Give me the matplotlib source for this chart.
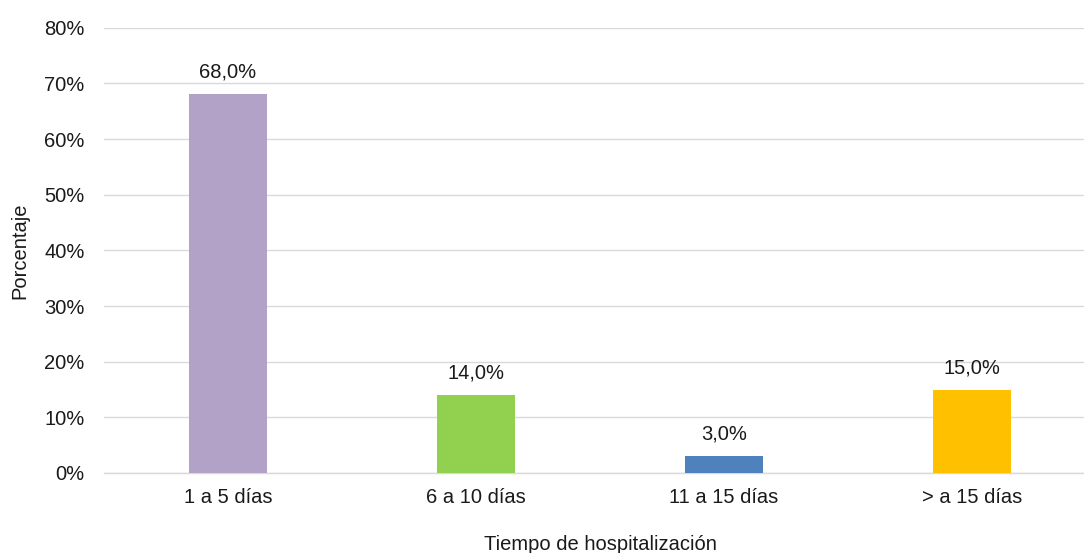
import matplotlib.pyplot as plt
from matplotlib.ticker import PercentFormatter

# data
categorias = ['1 a 5 días', '6 a 10 días', '11 a 15 días', '> a 15 días']
porcentajes = [68.0, 14.0, 3.0, 15.0]
colores = ['#B3A2C7', '#92D050', '#4F81BD', '#FFC000']

plt.rcParams['font.family'] = ['Liberation Sans', 'DejaVu Sans']

fig = plt.figure(figsize=(10.84, 5.53), dpi=100)
ax = fig.add_axes([104 / 1084, 80 / 553, 992 / 1084, 445.3 / 553])

x = list(range(len(categorias)))
bars = ax.bar(x, porcentajes, width=0.315, color=colores, zorder=3)

for b, v in zip(bars, porcentajes):
    ax.annotate(f"{v:.1f}%".replace('.', ','),
                (b.get_x() + b.get_width() / 2, v),
                xytext=(0, 9), textcoords='offset points',
                ha='center', va='bottom', fontsize=14.5, color='#1a1a1a')

ax.set_xlim(-0.5, 3.5)
ax.set_ylim(0, 80)
ax.set_yticks(range(0, 81, 10))
ax.yaxis.set_major_formatter(PercentFormatter(decimals=0))
ax.set_xticks(x)
ax.set_xticklabels(categorias)

ax.grid(axis='y', color='#D9D9D9', linewidth=1.0, zorder=0)
for s in ['top', 'right', 'left']:
    ax.spines[s].set_visible(False)
ax.spines['bottom'].set_color('#D9D9D9')
ax.spines['bottom'].set_linewidth(1.0)

ax.tick_params(axis='y', length=0, pad=14, labelsize=14.5, labelcolor='#1a1a1a')
ax.tick_params(axis='x', length=0, pad=11, labelsize=14.5, labelcolor='#1a1a1a')

ax.set_xlabel('Tiempo de hospitalización', fontsize=14.5, color='#1a1a1a', labelpad=20)
ax.set_ylabel('Porcentaje', fontsize=14.5, color='#1a1a1a', labelpad=11)

fig.savefig('out.png', dpi=100)
